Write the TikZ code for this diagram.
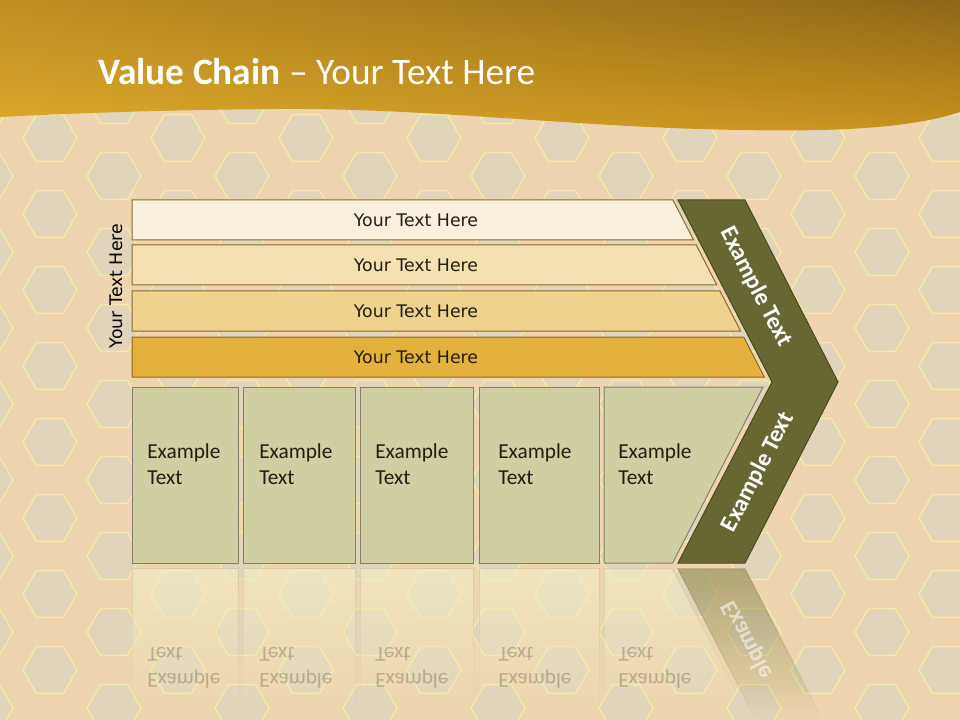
\documentclass[tikz,border=0pt]{standalone}
\usepackage{fontspec}
\setmainfont{Carlito}
\newfontfamily\barfont{DejaVu Sans}
\usetikzlibrary{fadings,shadings}
\definecolor{bgc}{RGB}{238,212,176}
\definecolor{holec}{RGB}{224,212,186}
\definecolor{rimc}{RGB}{246,232,168}
\definecolor{hdrUL}{RGB}{192,142,36}
\definecolor{hdrUR}{RGB}{142,102,22}
\definecolor{hdrLL}{RGB}{220,170,42}
\definecolor{hdrLR}{RGB}{200,146,30}
\definecolor{barA}{RGB}{248,239,220}
\definecolor{barB}{RGB}{244,224,176}
\definecolor{barC}{RGB}{239,210,142}
\definecolor{barD}{RGB}{228,178,60}
\definecolor{barline}{RGB}{140,105,35}
\definecolor{boxc}{RGB}{207,207,163}
\definecolor{boxline}{RGB}{128,128,110}
\definecolor{chevc}{RGB}{103,103,51}
\definecolor{chevline}{RGB}{72,72,32}
\definecolor{txtc}{RGB}{35,30,20}
\definecolor{reflc}{RGB}{240,236,196}
\definecolor{refline}{RGB}{205,200,170}
\definecolor{reflchev}{RGB}{150,146,92}
\tikzfading[name=reflfade, top color=transparent!30, bottom color=transparent!100]

\begin{document}
\begin{tikzpicture}[x=0.75pt, y=-0.75pt,
  hole/.style={fill=holec, draw=rimc, line width=1.2pt},
  barshape/.style={draw=barline, line width=0.75pt},
  bartext/.style={font=\barfont\fontsize{13}{15}\selectfont, text=txtc},
  exbox/.style={fill=boxc, draw=boxline, line width=0.75pt},
  extext/.style={font=\fontsize{16}{19.5}\selectfont, text=txtc, align=left,
                 anchor=north west, inner sep=0pt},
  chev/.style={fill=chevc, draw=chevline, line width=0.75pt},
  chevtext/.style={font=\bfseries\fontsize{18}{21}\selectfont, text=white},
  refl/.style={fill=reflc, draw=refline, line width=0.75pt, path fading=reflfade},
  refltext/.style={extext, yscale=-1, text=txtc, text opacity=0.25}
]
\useasboundingbox (0,0) rectangle (960,720);
% ── Background plate ───────────────────
\fill[bgc] (0,0) rectangle (960,720);
\foreach \i in {0,...,15}
  \foreach \j in {-1,...,9} {
    \pgfmathsetmacro{\hy}{62 + \j*76 - mod(\i+1,2)*38}
    \path[hole, shift={(\i*64-14,\hy)}]
      (0:27) -- (60:27) -- (120:27) -- (180:27) -- (240:27) -- (300:27) -- cycle;
  }
% ── Header band ────────────────────────
\shade[upper left=hdrUL, upper right=hdrUR, lower left=hdrLL, lower right=hdrLR]
  (0,0) -- (960,0) -- (960,112)
  .. controls (900,132) and (800,132) .. (700,129)
  .. controls (560,125) and (420,108) .. (280,109)
  .. controls (150,110) and (60,114) .. (0,117) -- cycle;
\node[anchor=base west, inner sep=0pt, text=white, font=\fontsize{28}{34}\selectfont]
  (title) at (98,85) {\textbf{Value Chain} – Your Text Here};
% ── Bars ───────────────────────────────
\foreach \y/\c/\n in {200/barA/1, 245/barB/2, 291/barC/3, 337/barD/4} {
  \pgfmathsetmacro{\xt}{673 + 0.516*(\y-200)}
  \pgfmathsetmacro{\xb}{\xt + 20.6}
  \path[barshape, fill=\c] (132,\y) -- (\xt,\y) -- (\xb,\y+40) -- (132,\y+40) -- cycle;
  \node[bartext] (bar\n) at (416,\y+20) {Your Text Here};
}
\node[bartext, rotate=90, text=black] (side) at (116,286) {Your Text Here};
% ── Boxes ──────────────────────────────
\foreach \l/\r/\n/\t in {132/238/1/147, 243/355/2/259, 360/473/3/375, 479/599/4/498} {
  \path[exbox] (\l,387) rectangle (\r,563);
  \node[extext] (ex\n) at (\t,443) {Example\\Text};
}
\path[exbox] (604,387) -- (763,387) -- (672.6,563) -- (604,563) -- cycle;
\node[extext] (ex5) at (618,443) {Example\\Text};
% ── Chevron ────────────────────────────
\path[chev] (678,200) -- (745,200) -- (838,382) -- (745,563) -- (678,563)
  -- (772,382) -- cycle;
\node[chevtext, rotate=-62.7] (chevup) at (756,287) {Example Text};
\node[chevtext, rotate=62.7] (chevdn) at (758,472) {Example Text};
% ── Reflection ─────────────────────────
\foreach \l/\r/\n/\t in {132/238/1/147, 243/355/2/259, 360/473/3/375, 479/599/4/498} {
  \path[refl] (\l,569) rectangle (\r,720);
  \node[refltext] (rex\n) at (\t,689) {Example\\Text};
}
\path[refl] (604,569) -- (672.6,569) -- (750.5,720) -- (604,720) -- cycle;
\node[refltext] (rex5) at (618,689) {Example\\Text};
\path[refl, fill=reflchev, draw=reflchev] (678,569) -- (745,569) -- (822.9,720)
  -- (755.9,720) -- cycle;
\node[chevtext, rotate=-62.7, yscale=-1, anchor=west, text opacity=0.55]
  (rchev) at (726,598) {Example};
\end{tikzpicture}
\end{document}
